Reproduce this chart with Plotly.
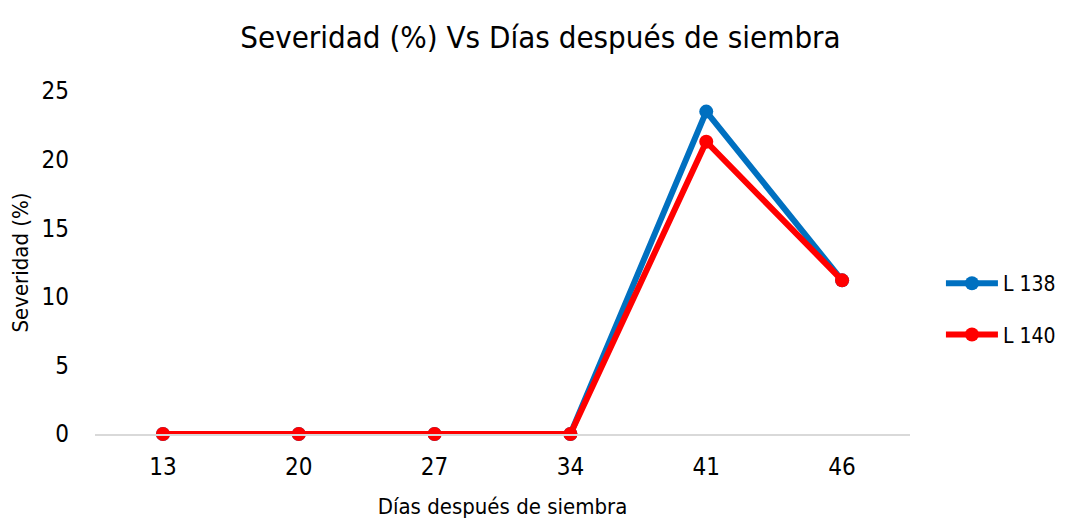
import plotly.graph_objects as go

dias = ["13", "20", "27", "34", "41", "46"]
l138 = [0, 0, 0, 0, 23.5, 11.2]
l140 = [0, 0, 0, 0, 21.3, 11.2]

font = "Liberation Sans Narrow, DejaVu Sans Condensed, Liberation Sans, Arial"

fig = go.Figure()
fig.add_trace(go.Scatter(
    x=dias, y=l138, name="L 138", mode="lines+markers", legendgroup="a",
    line=dict(color="#0070C0", width=6), marker=dict(size=14), cliponaxis=False,
))
fig.add_trace(go.Scatter(
    x=dias, y=l140, name="L 140", mode="lines+markers", legendgroup="b",
    line=dict(color="#FF0000", width=6), marker=dict(size=14), cliponaxis=False,
))

# page body has an 8px margin, so the figure is 8px smaller
fig.update_layout(
    width=1065, height=512,
    paper_bgcolor="white", plot_bgcolor="white",
    font=dict(family=font, size=22, color="black"),
    title=dict(text="Severidad (%) Vs Días después de siembra", x=0.5, xanchor="center",
               y=0.943, yanchor="middle", font=dict(size=31)),
    margin=dict(l=87, r=163, t=83, b=86),
    legend=dict(xref="container", yref="container", x=0.876, y=0.412,
                yanchor="middle", xanchor="left",
                tracegroupgap=21, itemwidth=52, font=dict(size=21)),
)
fig.update_xaxes(
    type="category", range=[-0.5, 5.5], showgrid=False, showline=True,
    linecolor="#d9d9d9", linewidth=1.5, automargin=False,
    ticks="", ticklabelstandoff=10, tickfont=dict(size=24),
    title=dict(text="Días después de siembra", standoff=19, font=dict(size=22)),
)
fig.update_yaxes(
    range=[0, 25], dtick=5, showgrid=False, zeroline=False, showline=False,
    automargin=False,
    ticks="", ticklabelstandoff=25, tickfont=dict(size=24),
    title=dict(text="Severidad (%)", standoff=14, font=dict(size=22)),
)

fig.write_html("out.html")
